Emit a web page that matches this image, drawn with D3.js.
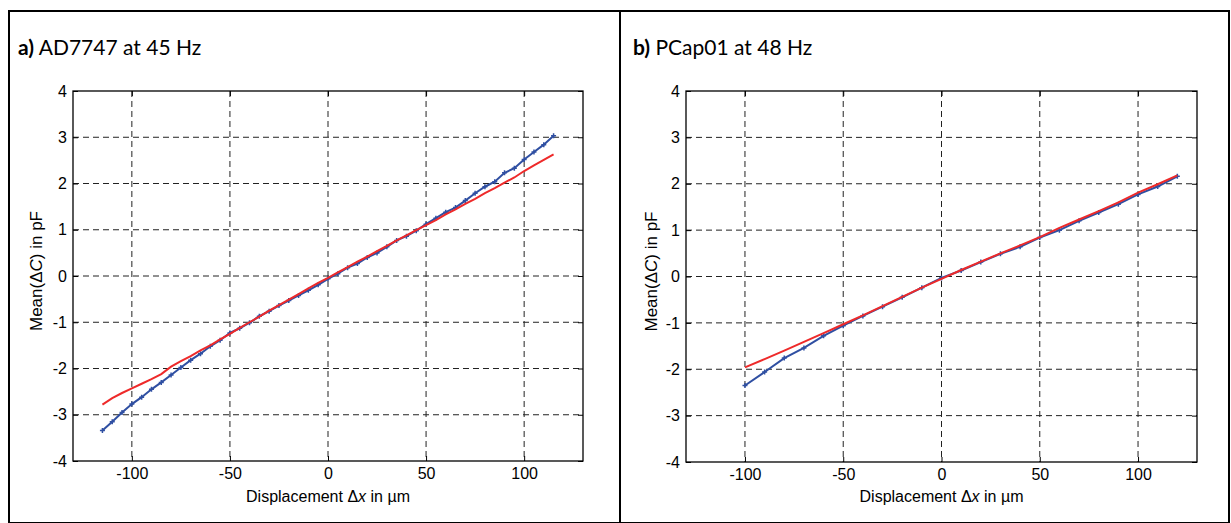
<!DOCTYPE html>
<html>
<head>
<meta charset="utf-8">
<script src="https://cdn.jsdelivr.net/npm/d3@7"></script>
<style>
  body { margin: 0; background: #fff; }
  svg { display: block; }
</style>
</head>
<body>
<svg id="chart" width="1231" height="523"></svg>
<script>
// panel a) AD7747 at 45 Hz
var xA = [-115,-110,-105,-100,-95,-90,-85,-80,-75,-70,-65,-60,-55,-50,-45,-40,-35,-30,-25,-20,-15,-10,-5,0,
          5,10,15,20,25,30,35,40,45,50,55,60,65,70,75,80,85,90,95,100,105,110,115];
var measA = [-3.34,-3.15,-2.95,-2.77,-2.62,-2.45,-2.30,-2.14,-1.98,-1.82,-1.68,-1.52,-1.39,-1.23,-1.13,-1.01,-0.87,-0.76,-0.64,-0.53,-0.42,-0.31,-0.19,-0.06,
             0.05,0.18,0.27,0.40,0.50,0.63,0.77,0.86,0.98,1.12,1.25,1.38,1.48,1.63,1.79,1.93,2.04,2.23,2.33,2.52,2.68,2.84,3.03];
var fitA = [-2.78,-2.64,-2.53,-2.43,-2.33,-2.23,-2.12,-1.96,-1.84,-1.73,-1.61,-1.50,-1.37,-1.25,-1.12,-1.00,-0.88,-0.75,-0.63,-0.51,-0.39,-0.27,-0.15,-0.04,
            0.08,0.19,0.31,0.42,0.54,0.65,0.77,0.88,0.99,1.10,1.21,1.33,1.44,1.56,1.67,1.79,1.90,2.02,2.13,2.27,2.39,2.51,2.63];

// panel b) PCap01 at 48 Hz
var xB = [-100,-90,-80,-70,-60,-50,-40,-30,-20,-10,0,10,20,30,40,50,60,70,80,90,100,110,120];
var measB = [-2.35,-2.06,-1.76,-1.54,-1.28,-1.06,-0.85,-0.65,-0.45,-0.24,-0.03,0.13,0.31,0.49,0.64,0.84,1.00,1.20,1.38,1.56,1.77,1.94,2.16];
var fitB = [-1.96,-1.78,-1.60,-1.41,-1.22,-1.03,-0.84,-0.64,-0.44,-0.24,-0.05,0.14,0.32,0.50,0.67,0.85,1.05,1.23,1.41,1.60,1.81,1.99,2.18];

var xTicks = [-100,-50,0,50,100];
var yTicks = [-4,-3,-2,-1,0,1,2,3,4];

var svg = d3.select("#chart");
var sans = "'Liberation Sans', Arial, sans-serif";

// outer frames
svg.append("rect").attr("x", 9).attr("y", 11).attr("width", 611).attr("height", 512)
   .attr("fill", "none").attr("stroke", "#000").attr("stroke-width", 2);
svg.append("rect").attr("x", 620).attr("y", 11).attr("width", 609).attr("height", 512)
   .attr("fill", "none").attr("stroke", "#000").attr("stroke-width", 2);

function drawPanel(opt) {
  var x = d3.scaleLinear().domain([-130, 130]).range([opt.left, opt.right]);
  var y = d3.scaleLinear().domain([-4, 4]).range([opt.bottom, opt.top]);
  var g = svg.append("g");
  var fmt = d => String(d);

  // title
  var t = g.append("text").attr("x", opt.titleX).attr("y", 55)
     .style("font-family", "Lato, 'Open Sans', sans-serif").style("font-size", "21px");
  t.append("tspan").style("font-weight", "bold").text(opt.tag);
  t.append("tspan").text(" " + opt.title);

  // grid
  g.append("g").selectAll("line").data(xTicks).join("line")
    .attr("x1", d => x(d)).attr("x2", d => x(d))
    .attr("y1", opt.top).attr("y2", opt.bottom)
    .attr("stroke", "#222").attr("stroke-width", 1).attr("stroke-dasharray", "6,4");
  g.append("g").selectAll("line").data(yTicks.filter(d => d > -4 && d < 4)).join("line")
    .attr("x1", opt.left).attr("x2", opt.right)
    .attr("y1", d => y(d)).attr("y2", d => y(d))
    .attr("stroke", "#222").attr("stroke-width", 1).attr("stroke-dasharray", "6,4");

  // axes
  g.append("g").attr("transform", "translate(0," + opt.bottom + ")")
    .call(d3.axisBottom(x).tickValues(xTicks).tickFormat(fmt).tickSizeInner(-5).tickSizeOuter(0).tickPadding(7))
    .call(a => a.select(".domain").remove());
  g.append("g").attr("transform", "translate(0," + opt.top + ")")
    .call(d3.axisTop(x).tickValues(xTicks).tickSizeInner(-5).tickSizeOuter(0).tickFormat(""))
    .call(a => a.select(".domain").remove());
  g.append("g").attr("transform", "translate(" + opt.left + ",0)")
    .call(d3.axisLeft(y).tickValues(yTicks).tickFormat(fmt).tickSizeInner(-5).tickSizeOuter(0).tickPadding(6))
    .call(a => a.select(".domain").remove());
  g.append("g").attr("transform", "translate(" + opt.right + ",0)")
    .call(d3.axisRight(y).tickValues(yTicks).tickSizeInner(-5).tickSizeOuter(0).tickFormat(""))
    .call(a => a.select(".domain").remove());
  g.selectAll(".tick line").attr("stroke", "#000");
  g.selectAll(".tick text").style("font-family", sans).style("font-size", "16px").attr("fill", "#000");

  g.append("rect").attr("x", opt.left).attr("y", opt.top)
    .attr("width", opt.right - opt.left).attr("height", opt.bottom - opt.top)
    .attr("fill", "none").attr("stroke", "#000").attr("stroke-width", 1.3);

  // axis labels
  var xl = g.append("text").attr("x", (opt.left + opt.right) / 2).attr("y", 502)
    .attr("text-anchor", "middle")
    .style("font-family", sans).style("font-size", "16px");
  xl.append("tspan").text("Displacement \u0394");
  xl.append("tspan").style("font-style", "italic").text("x");
  xl.append("tspan").text(" in \u00b5m");

  var yl = g.append("text")
    .attr("transform", "translate(" + (opt.left - opt.ylabOff) + "," + ((opt.top + opt.bottom) / 2 - 5) + ") rotate(-90)")
    .attr("text-anchor", "middle")
    .style("font-family", sans).style("font-size", "17px");
  yl.append("tspan").text("Mean(\u0394");
  yl.append("tspan").style("font-style", "italic").text("C");
  yl.append("tspan").text(") in pF");

  var line = d3.line().x(d => x(d[0])).y(d => y(d[1]));
  var meas = opt.xs.map((v, i) => [v, opt.meas[i]]);
  var fit = opt.xs.map((v, i) => [v, opt.fit[i]]);

  g.append("path").datum(meas).attr("d", line)
    .attr("fill", "none").attr("stroke", "#2f4fa2").attr("stroke-width", 2);
  g.append("g").selectAll("path").data(meas).join("path")
    .attr("d", d => "M" + (x(d[0]) - 2.5) + "," + y(d[1]) + "h5M" + x(d[0]) + "," + (y(d[1]) - 2.5) + "v5")
    .attr("stroke", "#2f4fa2").attr("stroke-width", 1.5);
  g.append("path").datum(fit).attr("d", line)
    .attr("fill", "none").attr("stroke", "#ee2a2a").attr("stroke-width", 2);
}

drawPanel({ left: 73, right: 583, top: 91, bottom: 461, titleX: 18, tag: "a)", title: "AD7747 at 45 Hz",
            ylabOff: 31, xs: xA, meas: measA, fit: fitA });
drawPanel({ left: 686, right: 1197, top: 91, bottom: 462, titleX: 633, tag: "b)", title: "PCap01 at 48 Hz",
            ylabOff: 29, xs: xB, meas: measB, fit: fitB });
</script>
</body>
</html>
